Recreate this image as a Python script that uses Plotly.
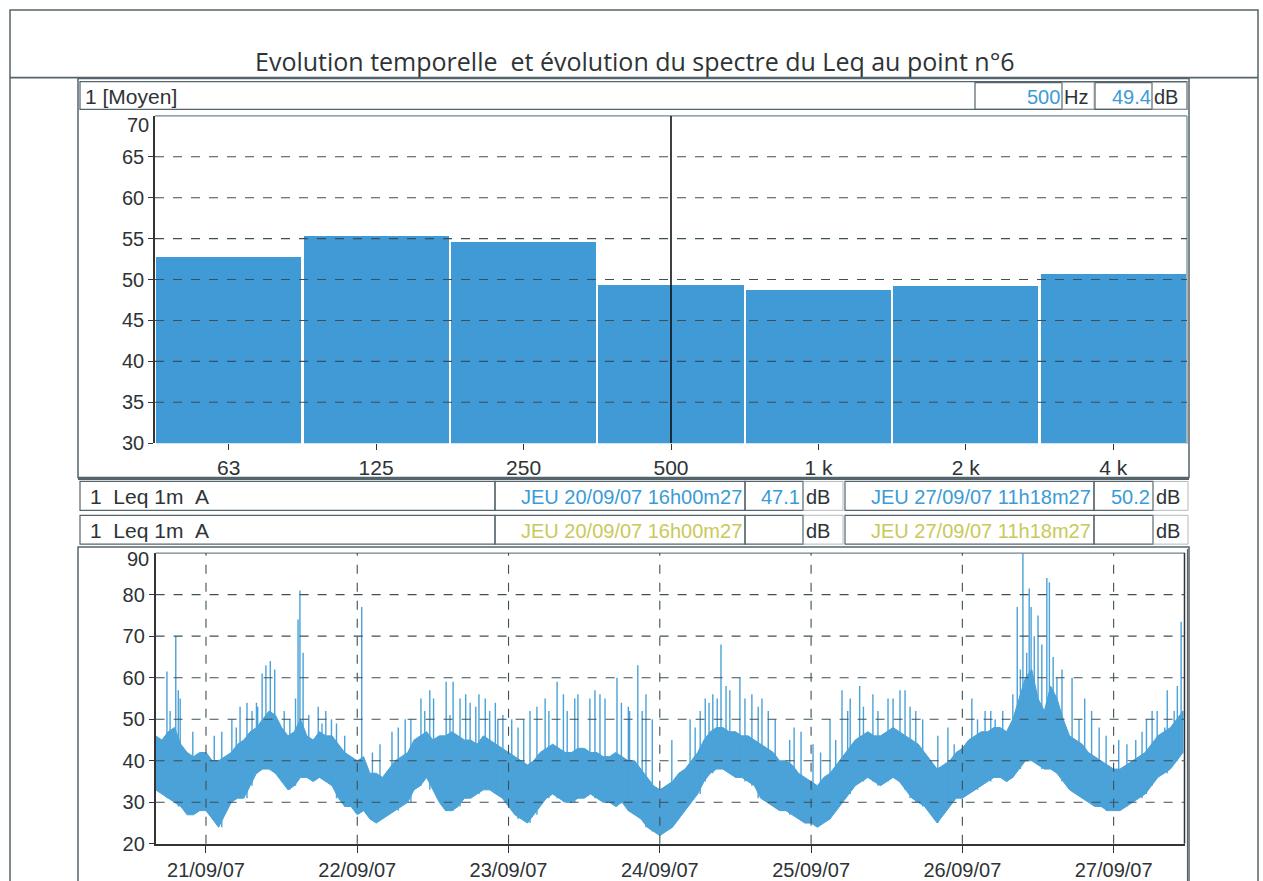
import plotly.graph_objects as go
import pandas as pd

# ---------------- data ----------------
# Octave-band spectrum of the mean Leq (dB)
bands = ["63", "125", "250", "500", "1 k", "2 k", "4 k"]
leq_band = [52.8, 55.3, 54.6, 49.4, 48.7, 49.2, 50.7]
spec_ticks = [30, 35, 40, 45, 50, 55, 60, 65]
cursor_band = "500"

# Leq 1 min A time history: hourly lower / upper envelope of the dense band (dB)
t_start = "2007-09-20 16:00:27"
t_end = "2007-09-27 11:18:27"
lo = [33, 32, 31, 30, 29, 27, 27, 28, 28, 26, 24, 27, 30, 31, 31, 34, 37, 38, 38, 37,
      35, 33, 34, 36, 36, 35, 36, 35, 34, 31, 29, 29, 27, 28, 26, 25, 26, 27, 28, 29,
      30, 33, 34, 36, 33, 30, 28, 28, 29, 31, 31, 32, 33, 33, 32, 31, 29, 27, 26, 25,
      27, 29, 31, 32, 31, 30, 30, 31, 31, 32, 31, 30, 30, 29, 30, 28, 27, 26, 24, 23,
      22, 23, 24, 26, 28, 30, 32, 35, 37, 38, 38, 37, 36, 36, 35, 34, 31, 30, 29, 28,
      28, 27, 26, 25, 25, 24, 25, 26, 28, 30, 32, 34, 35, 36, 35, 34, 35, 36, 35, 33,
      31, 30, 29, 27, 25, 27, 29, 31, 31, 32, 33, 34, 35, 36, 36, 35, 36, 38, 40, 40,
      39, 38, 38, 37, 35, 33, 32, 31, 30, 29, 29, 28, 28, 28, 29, 30, 31, 32, 34, 36,
      37, 38, 40, 42]
hi = [46, 45, 47, 48, 44, 42, 41, 42, 42, 40, 40, 41, 42, 44, 45, 47, 48, 50, 52, 51,
      48, 46, 47, 50, 46, 45, 47, 46, 46, 44, 42, 41, 40, 41, 37, 37, 36, 38, 40, 41,
      42, 45, 46, 47, 45, 46, 46, 47, 46, 45, 45, 44, 46, 45, 44, 43, 42, 41, 40, 39,
      40, 42, 43, 44, 43, 42, 42, 43, 43, 42, 42, 41, 41, 42, 41, 40, 40, 38, 36, 34,
      33, 34, 35, 37, 38, 40, 42, 45, 47, 48, 48, 47, 47, 46, 46, 45, 44, 43, 42, 40,
      40, 39, 37, 36, 35, 34, 36, 37, 39, 41, 43, 45, 46, 47, 46, 46, 47, 48, 47, 46,
      45, 44, 42, 40, 38, 39, 40, 42, 43, 45, 46, 47, 47, 48, 48, 47, 50, 55, 60, 62,
      55, 52, 58, 55, 50, 46, 45, 44, 42, 41, 40, 39, 38, 38, 39, 40, 41, 42, 44, 46,
      47, 48, 50, 52]
# isolated peaks: hours after start, peak level (dB)
spike_hours = [1.8, 2.3, 3.2, 3.6, 3.9, 5.9, 9.3, 10.5, 12.1, 12.8, 13.4, 14.5, 15.3,
               16.0, 16.2, 16.9, 17.5, 18.2, 18.9, 20.4, 21.3, 22.2, 22.6, 22.9, 23.4,
               24.3, 25.8, 26.4, 27.0, 27.9, 28.7, 30.0, 32.7, 34.4, 35.6, 37.5, 38.5,
               39.6, 40.5, 42.1, 42.7, 43.5, 44.1, 46.1, 46.7, 47.2, 48.3, 49.2, 49.9,
               50.8, 51.3, 52.3, 53.0, 53.9, 54.3, 55.1, 56.5, 57.5, 58.4, 59.4, 60.5,
               61.8, 62.4, 63.7, 64.7, 65.3, 66.5, 67.0, 68.9, 69.7, 70.5, 71.3, 73.2,
               73.9, 75.0, 75.2, 76.5, 77.2, 77.8, 78.8, 81.9, 85.6, 84.8, 86.4, 87.2,
               87.8, 88.4, 89.1, 89.7, 90.5, 91.1, 92.7, 93.5, 94.6, 95.6, 96.2, 97.2,
               98.3, 100.6, 101.3, 102.4, 104.3, 105.5, 107.0, 107.9, 108.9, 109.8,
               110.2, 111.7, 112.3, 113.8, 114.6, 116.2, 117.0, 118.1, 118.9, 119.7,
               120.6, 121.7, 124.1, 125.7, 126.7, 129.5, 130.4, 131.6, 132.5, 133.2,
               134.4, 135.1, 136.0, 136.7, 137.2, 137.6, 138.2, 138.6, 138.9, 139.4,
               140.0, 140.6, 141.4, 141.8, 142.4, 142.5, 143.0, 143.8, 145.4, 146.5,
               147.4, 148.5, 149.7, 150.8, 152.8, 154.1, 155.5, 156.5, 157.2, 158.1,
               158.9, 160.1, 160.5, 161.6, 162.1, 162.7]
spike_peaks = [61.5, 52, 70, 57, 55, 47, 46, 47, 50, 48, 53, 54, 52,
               54, 53, 61, 63, 64, 62, 52, 50, 55, 74, 81, 66,
               51, 53, 49, 52, 50, 49, 46, 77, 42, 44, 47, 48,
               50, 50, 55, 52, 57, 55, 59, 51, 59, 55, 56, 54,
               53, 56, 55, 52, 54, 50, 51, 50, 48, 50, 52, 53,
               55, 52, 59, 56, 52, 55, 56, 55, 57, 56, 55, 60,
               54, 53, 52, 63, 52, 56, 50, 45, 48, 50, 52, 55,
               54, 56, 55, 68, 58, 57, 60, 55, 56, 53, 55, 52,
               50, 45, 48, 47, 44, 42, 50, 45, 57, 52,
               55, 58, 53, 56, 52, 55, 55, 57, 57, 53,
               52, 50, 46, 48, 44, 55, 50, 52, 52, 50,
               52, 47, 56, 77, 62, 90, 66, 81.5, 77, 70,
               75, 68, 84, 83, 65, 55, 60, 62, 60, 50,
               55, 52, 48, 46, 45, 44, 45, 47, 50, 52,
               52, 48, 57, 52, 58, 73.5]
ts_ticks = [20, 30, 40, 50, 60, 70, 80]
day_ticks = ["2007-09-21", "2007-09-22", "2007-09-23", "2007-09-24",
             "2007-09-25", "2007-09-26", "2007-09-27"]
day_labels = ["21/09/07", "22/09/07", "23/09/07", "24/09/07",
              "25/09/07", "26/09/07", "27/09/07"]

# ---------------- page geometry ----------------
W, H = 1263, 881
KY = 1.012  # vertical layout scale
FRAME = "#55646b"
BLUE = "#3f9ad5"
SERIES = "#4aa2d8"
CURSOR_TXT = "#3b9bd8"
OLIVE = "#c9c95a"
TXT = "#2e3336"
FONT = "Liberation Sans, Arial, sans-serif"


def px(x):
    return x / W


def py(y):
    return 1 - y * KY / H


fig = go.Figure()

# spectrum bars
fig.add_trace(go.Bar(x=list(range(len(bands))), y=leq_band, width=0.985,
                     marker=dict(color=BLUE, line=dict(width=0)),
                     xaxis="x", yaxis="y", hoverinfo="skip"))

# time history: dense band + isolated peaks
t0 = pd.Timestamp(t_start)
times = [t0 + pd.Timedelta(hours=i) for i in range(len(lo))]
fig.add_trace(go.Scatter(x=times + times[::-1], y=hi + lo[::-1], fill="toself",
                         fillcolor=SERIES, mode="lines",
                         line=dict(color=SERIES, width=1),
                         xaxis="x2", yaxis="y2", hoverinfo="skip"))
sx, sy = [], []
for h, p in zip(spike_hours, spike_peaks):
    t = t0 + pd.Timedelta(hours=h)
    base = lo[min(int(round(h)), len(lo) - 1)]
    sx += [t, t, None]
    sy += [base, p, None]
fig.add_trace(go.Scatter(x=sx, y=sy, mode="lines", line=dict(color=SERIES, width=1.4),
                         xaxis="x2", yaxis="y2", hoverinfo="skip"))

shapes = []
ann = []


def rect(x0, y0, x1, y1, color=FRAME, w=1.2):
    shapes.append(dict(type="rect", xref="paper", yref="paper",
                       x0=px(x0), x1=px(x1), y0=py(y0), y1=py(y1),
                       line=dict(color=color, width=w), layer="above"))


def hline(x0, x1, y, color=FRAME, w=1.2):
    shapes.append(dict(type="line", xref="paper", yref="paper",
                       x0=px(x0), x1=px(x1), y0=py(y), y1=py(y),
                       line=dict(color=color, width=w), layer="above"))


def vline(x, y0, y1, color=FRAME, w=1.2):
    shapes.append(dict(type="line", xref="paper", yref="paper",
                       x0=px(x), x1=px(x), y0=py(y0), y1=py(y1),
                       line=dict(color=color, width=w), layer="above"))


def text(x, y, s, anchor="left", color=TXT, size=20, family=FONT):
    ann.append(dict(xref="paper", yref="paper", x=px(x), y=py(y), text=s,
                    showarrow=False, xanchor=anchor, yanchor="middle",
                    font=dict(family=family, size=size, color=color)))


# outer page frame and title band
rect(10, 10, 1258, 900, w=1.5)
hline(10, 1258, 78, w=1.8)
text(635, 61, "Evolution temporelle  et évolution du spectre du Leq au point n°6",
     anchor="center", size=25, family="Open Sans, Lato, sans-serif")

# ---- spectrum panel ----
rect(78, 79, 1189, 480, w=1.5)
rect(80, 82, 1187, 110, w=1.2)
text(83, 97, "1 [Moyen]", size=21)
rect(975, 83, 1062, 110)
rect(1062, 83, 1094, 110, color="#a0a8ac", w=0.8)
rect(1095, 83, 1152, 110)
rect(1152, 83, 1187, 110, color="#a0a8ac", w=0.8)
text(1062, 98, "500", anchor="right", color=CURSOR_TXT, size=20)
text(1062, 98, "Hz", size=20)
text(1153, 98, "49.4", anchor="right", color=CURSOR_TXT, size=20)
text(1152, 98, "dB", size=20)
# plot frame (top / right)
hline(155, 1187, 116.5, color="#6d8690", w=1.2)
vline(1187, 116.5, 446, color="#6d8690", w=1.2)
text(151, 126, "70", anchor="right", size=20)

# ---- time history panel ----
for (y0, y1, col) in [(484, 513, CURSOR_TXT), (518, 547, OLIVE)]:
    rect(80, y0, 495, y1)
    rect(495, y0, 745, y1)
    rect(745, y0, 803, y1)
    rect(803, y0, 843, y1, color="#a0a8ac", w=0.8)
    rect(845, y0, 1094, y1)
    rect(1094, y0, 1153, y1)
    rect(1153, y0, 1188, y1, color="#a0a8ac", w=0.8)
    ym = (y0 + y1) / 2 + 1
    text(88, ym, "1\u00a0\u00a0Leq 1m\u00a0\u00a0A", size=21)
    text(744, ym, "JEU 20/09/07 16h00m27", anchor="right", color=col, size=20)
    text(1093, ym, "JEU 27/09/07 11h18m27", anchor="right", color=col, size=20)
    text(804, ym, "dB", size=20)
    text(1154, ym, "dB", size=20)
text(802, 499.5, "47.1", anchor="right", color=CURSOR_TXT, size=20)
text(1152, 499.5, "50.2", anchor="right", color=CURSOR_TXT, size=20)
hline(78, 1189, 481.5, w=2)
rect(78, 550, 1189, 900, w=1.5)
hline(155.6, 1185, 556, color="#6d8690", w=1.2)
vline(1184.5, 556, 848.3, color="#333", w=1.5)
vline(1187.5, 552, 900, color=FRAME, w=1.2)
text(151, 562, "90", anchor="right", size=20)

# dashed grids drawn over the marks
GRID = dict(color="#3e4f57", width=1.1, dash="dash")
for v in spec_ticks[1:]:
    shapes.append(dict(type="line", xref="x domain", yref="y", x0=0, x1=1, y0=v, y1=v,
                       line=GRID, layer="above"))
ci = bands.index(cursor_band)
shapes.append(dict(type="line", xref="x", yref="y", x0=ci, x1=ci, y0=30, y1=70,
                   line=dict(color="#111", width=1.6), layer="above"))
for v in ts_ticks[1:]:
    shapes.append(dict(type="line", xref="x2 domain", yref="y2", x0=0, x1=1, y0=v, y1=v,
                       line=GRID, layer="above"))
for d in day_ticks:
    shapes.append(dict(type="line", xref="x2", yref="y2 domain", x0=d, x1=d, y0=0, y1=1,
                       line=GRID, layer="above"))

tickfont = dict(family=FONT, size=20, color=TXT)
fig.update_layout(
    width=W, height=H, margin=dict(l=0, r=0, t=0, b=0),
    paper_bgcolor="white", plot_bgcolor="white", showlegend=False,
    xaxis=dict(domain=[px(155), px(1187)], range=[-0.5, len(bands) - 0.5],
               tickvals=list(range(len(bands))), ticktext=bands, ticks="outside",
               ticklen=6, tickcolor="#333", tickfont=dict(family=FONT, size=21, color=TXT),
               showgrid=False, zeroline=False, showline=False, fixedrange=True),
    yaxis=dict(domain=[py(445.5), py(116.5)], range=[30, 70], tickvals=spec_ticks,
               ticks="outside", ticklen=5, tickcolor="#333", tickfont=tickfont,
               showgrid=False, zeroline=False, showline=True, linecolor="#333",
               linewidth=1.5, fixedrange=True),
    xaxis2=dict(domain=[px(155.6), px(1184.9)], range=[t_start, t_end], type="date",
                tickvals=day_ticks, ticktext=day_labels, ticks="outside", ticklen=7,
                tickcolor="#333", tickfont=tickfont, showgrid=False, zeroline=False,
                showline=True, linecolor="#333", linewidth=1.5, anchor="y2",
                fixedrange=True),
    yaxis2=dict(domain=[py(848.3), py(556)], range=[20, 90], tickvals=ts_ticks,
                ticks="outside", ticklen=5, tickcolor="#333", tickfont=tickfont,
                showgrid=False, zeroline=False, showline=True, linecolor="#333",
                linewidth=1.5, anchor="x2", fixedrange=True),
    bargap=0,
    shapes=shapes, annotations=ann,
)

fig.write_html("out.html")
